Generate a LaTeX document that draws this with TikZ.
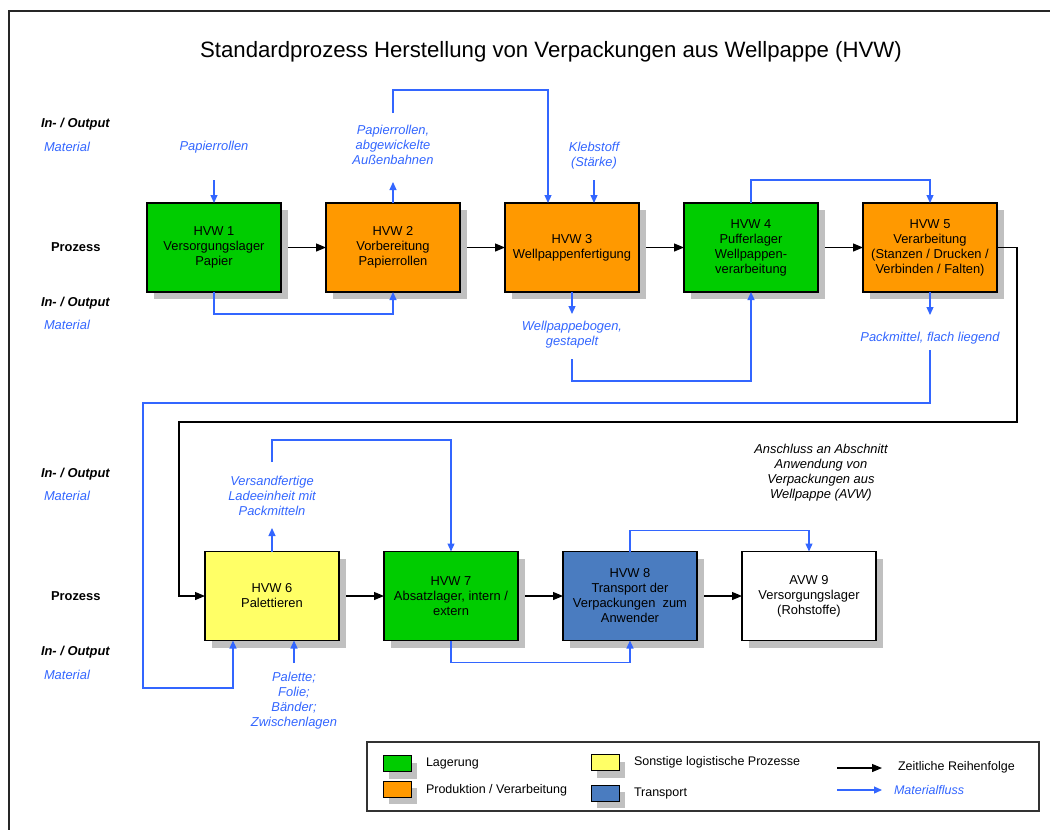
\documentclass[tikz,border=0pt]{standalone}
\usepackage{fontspec}
\setmainfont{Liberation Sans}
\usetikzlibrary{arrows.meta,shadows,calc}

\definecolor{lagergreen}{RGB}{0,204,0}
\definecolor{prodorange}{RGB}{255,153,0}
\definecolor{logyellow}{RGB}{255,255,102}
\definecolor{transblue}{RGB}{74,124,192}
\definecolor{flowblue}{RGB}{51,102,255}
\definecolor{shadowgray}{RGB}{192,192,192}

\newcommand{\stdfont}{\fontsize{12.9}{15}\selectfont}

\begin{document}
\begin{tikzpicture}[x=1pt,y=-1pt,
  every node/.style={inner sep=0pt, outer sep=0pt},
  txt/.style={font=\stdfont, align=center},
  proc/.style={draw=black, line width=1.3pt, minimum width=134pt, minimum height=89pt,
    txt, general shadow={fill=shadowgray, shadow xshift=7pt, shadow yshift=-7pt}},
  swatch/.style={draw=black, line width=1pt, minimum width=28pt, minimum height=16pt},
  swshadow/.style={fill=shadowgray, minimum width=28pt, minimum height=16pt},
  matlbl/.style={font=\stdfont\itshape, align=center, text=flowblue},
  iolbl/.style={font=\stdfont\bfseries\itshape, anchor=west},
  matrow/.style={font=\stdfont\itshape, text=flowblue, anchor=west},
  przlbl/.style={font=\stdfont\bfseries, anchor=west},
  legtxt/.style={font=\fontsize{12.5}{14}\selectfont, anchor=west},
  mat/.style={draw=flowblue, line width=1.2pt, -{Triangle[length=8pt,width=7pt]}},
  seq/.style={draw=black, line width=1.2pt, -{Triangle[length=10pt,width=8pt]}}
]
\useasboundingbox (0,0) rectangle (1050,830);

% outer frame
\draw[line width=1.8pt, black!85] (9,830) -- (9,11) -- (1050,11);

% title
\node[font=\fontsize{22.2}{26}\selectfont] (title) at (551,52)
  {Standardprozess Herstellung von Verpackungen aus Wellpappe (HVW)};

% row captions
\node[iolbl]  (io1)  at (41,124) {In- / Output};
\node[matrow] (mr1)  at (44,147) {Material};
\node[przlbl] (pz1)  at (51,247) {Prozess};
\node[iolbl]  (io2)  at (41,303) {In- / Output};
\node[matrow] (mr2)  at (44,325) {Material};
\node[iolbl]  (io3)  at (41,474) {In- / Output};
\node[matrow] (mr3)  at (44,496) {Material};
\node[przlbl] (pz2)  at (51,596) {Prozess};
\node[iolbl]  (io4)  at (41,652) {In- / Output};
\node[matrow] (mr4)  at (44,675) {Material};

% process steps, first row
\node[proc, fill=lagergreen] (h1) at (214,247.5) {HVW 1\\Versorgungslager\\Papier};
\node[proc, fill=prodorange] (h2) at (393,247.5) {HVW 2\\Vorbereitung\\Papierrollen};
\node[proc, fill=prodorange] (h3) at (572,247.5) {HVW 3\\Wellpappenfertigung};
\node[proc, fill=lagergreen] (h4) at (751,247.5) {HVW 4\\Pufferlager\\Wellpappen-\\verarbeitung};
\node[proc, fill=prodorange] (h5) at (930,247.5) {HVW 5\\Verarbeitung\\(Stanzen / Drucken /\\Verbinden / Falten)};

% process steps, second row
\node[proc, fill=logyellow]  (h6) at (272,596) {HVW 6\\Palettieren};
\node[proc, fill=lagergreen] (h7) at (451,596) {HVW 7\\Absatzlager, intern /\\extern};
\node[proc, fill=transblue]  (h8) at (630,596) {HVW 8\\Transport der\\Verpackungen\ \ zum\\Anwender};
\node[proc, fill=white]      (a9) at (809,596) {AVW 9\\Versorgungslager\\(Rohstoffe)};

% material labels
\node[matlbl] (l1)  at (214,147)   {Papierrollen};
\node[matlbl] (l2)  at (393,144.5) {Papierrollen,\\abgewickelte\\Außenbahnen};
\node[matlbl] (l3)  at (594,155.5) {Klebstoff\\(Stärke)};
\node[matlbl] (l4)  at (572,334.5) {Wellpappebogen,\\gestapelt};
\node[matlbl] (l5)  at (930,338.5) {Packmittel, flach liegend};
\node[matlbl] (l6)  at (272,496)   {Versandfertige\\Ladeeinheit mit\\Packmitteln};
\node[matlbl] (l7)  at (294,701)   {Palette;\\Folie;\\Bänder;\\Zwischenlagen};
\node[font=\stdfont\itshape, align=center] (anschl) at (821,473)
  {Anschluss an Abschnitt\\Anwendung von\\Verpackungen aus\\Wellpappe (AVW)};

% free ends of material connectors
\coordinate (c1)  at (214,180);
\coordinate (c3)  at (393,182);
\coordinate (c4)  at (393,113);
\coordinate (c5)  at (594,180);
\coordinate (c6)  at (572,314);
\coordinate (c7)  at (572,359);
\coordinate (c9)  at (930,315);
\coordinate (c10) at (930,350);
\coordinate (c12) at (272,528);
\coordinate (c13) at (272,462);
\coordinate (c14) at (294,663);

% chronological sequence
\draw[seq] ([xshift=7pt]h1.east) -- (h2.west);
\draw[seq] ([xshift=7pt]h2.east) -- (h3.west);
\draw[seq] ([xshift=7pt]h3.east) -- (h4.west);
\draw[seq] ([xshift=7pt]h4.east) -- (h5.west);
\draw[seq] (h5.east) -| (1017,422) -- (179,422) |- (h6.west);
\draw[seq] ([xshift=7pt]h6.east) -- (h7.west);
\draw[seq] ([xshift=7pt]h7.east) -- (h8.west);
\draw[seq] ([xshift=7pt]h8.east) -- (a9.west);

% material flow
\draw[mat] (c1) -- (h1.north);
\draw[mat] (h1.south) -- ++(0,22) -| (h2.south);
\draw[mat] (h2.north) -- (c3);
\draw[mat] (c4) -- ++(0,-23) -| ([xshift=-24pt]h3.north);
\draw[mat] (c5) -- ([xshift=22pt]h3.north);
\draw[mat] (h3.south) -- (c6);
\draw[mat] (c7) -- ++(0,22) -| (h4.south);
\draw[mat] (h4.north) -- ++(0,-23) -| (h5.north);
\draw[mat] (h5.south) -- (c9);
\draw[mat] (c10) -- (930,403) -- (143,403) -- (143,688) -| ([xshift=-39pt]h6.south);
\draw[mat] (h6.north) -- (c12);
\draw[mat] (c13) -- ++(0,-22) -| (h7.north);
\draw[mat] (c14) -- ([xshift=22pt]h6.south);
\draw[mat] (h7.south) -- ++(0,22) -| (h8.south);
\draw[mat] (h8.north) -- ++(0,-21) -| (a9.north);

% legend
\node[draw=black!80, line width=1.2pt, minimum width=672pt, minimum height=69pt,
  anchor=north west] (legend) at (367,742) {};
\node[swshadow] (sh1) at (403,770.5) {};
\node[swshadow] (sh2) at (403,796)   {};
\node[swshadow] (sh3) at (611,769.5) {};
\node[swshadow] (sh4) at (611,800)   {};
\node[swatch, fill=lagergreen] (sw1) at (397,763.5) {};
\node[swatch, fill=prodorange] (sw2) at (397,789)   {};
\node[swatch, fill=logyellow]  (sw3) at (605,762.5) {};
\node[swatch, fill=transblue]  (sw4) at (605,793)   {};
\node[legtxt] (t1) at (426,763) {Lagerung};
\node[legtxt] (t2) at (426,790) {Produktion / Verarbeitung};
\node[legtxt] (t3) at (634,762) {Sonstige logistische Prozesse};
\node[legtxt] (t4) at (634,793) {Transport};
\coordinate (ls1) at (837,768);
\coordinate (le1) at (882,768);
\coordinate (ls2) at (837,790);
\coordinate (le2) at (882,790);
\draw[seq] (ls1) -- (le1);
\draw[mat] (ls2) -- (le2);
\node[legtxt] (t5) at (898,767.5) {Zeitliche Reihenfolge};
\node[legtxt, font=\fontsize{12.5}{14}\selectfont\itshape, text=flowblue] (t6) at (894,790) {Materialfluss};

\end{tikzpicture}
\end{document}
